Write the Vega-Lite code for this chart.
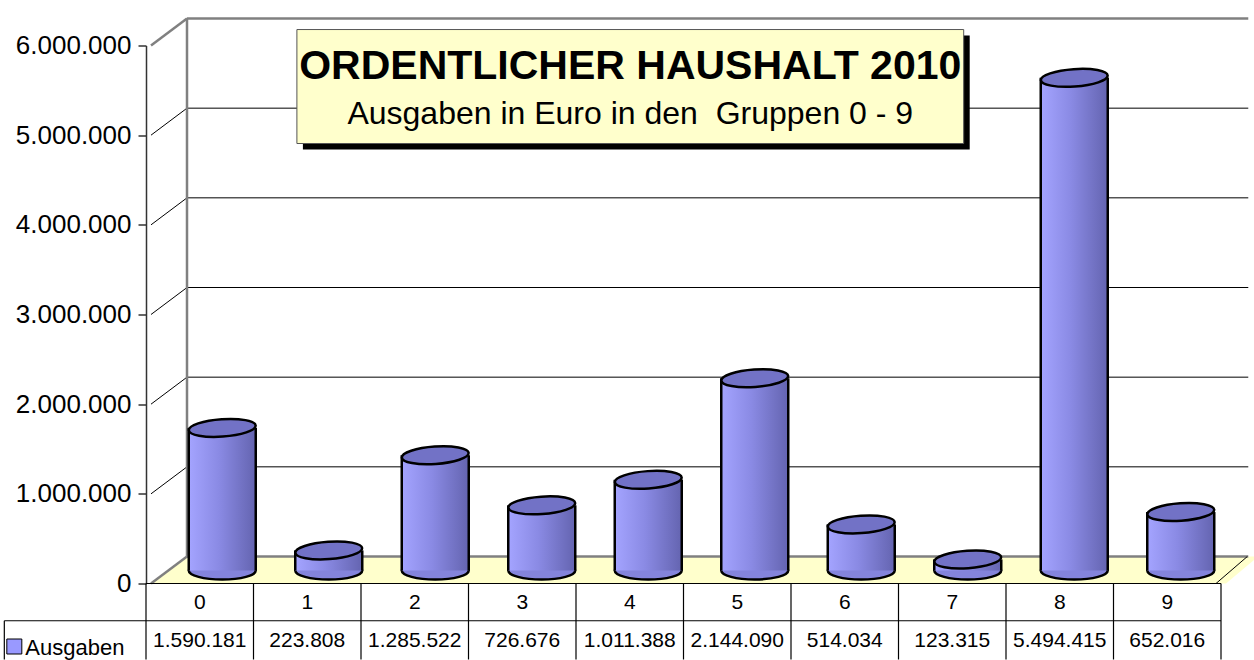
{
  "$schema": "https://vega.github.io/schema/vega-lite/v6.json",
  "padding": {"left": 3, "top": 13.5, "right": 0, "bottom": 0},
  "background": "white",
  "spacing": 0,
  "bounds": "flush",
  "config": {
    "locale": {"number": {"decimal": ",", "thousands": ".", "grouping": [3], "currency": ["", " €"]}},
    "view": {"stroke": null},
    "font": "Liberation Sans",
    "text": {"font": "Liberation Sans"}
  },
  "datasets": {
    "main": [
      {"Gruppe": 0, "Ausgaben": 1590181},
      {"Gruppe": 1, "Ausgaben": 223808},
      {"Gruppe": 2, "Ausgaben": 1285522},
      {"Gruppe": 3, "Ausgaben": 726676},
      {"Gruppe": 4, "Ausgaben": 1011388},
      {"Gruppe": 5, "Ausgaben": 2144090},
      {"Gruppe": 6, "Ausgaben": 514034},
      {"Gruppe": 7, "Ausgaben": 123315},
      {"Gruppe": 8, "Ausgaben": 5494415},
      {"Gruppe": 9, "Ausgaben": 652016}
    ],
    "grid": [
      {"v": 0}, {"v": 1000000}, {"v": 2000000}, {"v": 3000000},
      {"v": 4000000}, {"v": 5000000}, {"v": 6000000}
    ]
  },
  "vconcat": [
    {
      "width": 1075,
      "height": 538,
      "data": {"name": "main"},
      "layer": [
        {
          "data": {"values": [{}]},
          "mark": {"type": "point", "shape": "M0,0L3.6,-2.7L110.73,-2.7L107.5,0Z", "size": 400, "filled": true, "fill": "#FFFFCC", "strokeWidth": 0, "opacity": 1},
          "encoding": {
            "x": {"datum": -0.5, "type": "quantitative", "scale": {"domain": [-0.5, 9.5], "nice": false, "zero": false}, "axis": null},
            "y": {"datum": 0, "type": "quantitative", "scale": {"domain": [0, 6000000], "nice": false},
              "axis": {"values": [0, 1000000, 2000000, 3000000, 4000000, 5000000, 6000000], "format": ",d", "title": null, "grid": false,
                "labelFont": "Liberation Sans", "labelFontSize": 26, "labelColor": "black", "labelPadding": 7, "labelOverlap": false,
                "tickSize": 8, "tickColor": "#333333", "tickWidth": 1.5, "domainColor": "#333333", "domainWidth": 1.5}}
          }
        },
        {
          "data": {"name": "grid"},
          "transform": [{"filter": "datum.v > 0 && datum.v < 6000000"}],
          "mark": {"type": "rule", "color": "black", "strokeWidth": 1, "xOffset": 36, "x2Offset": 36, "yOffset": -27},
          "encoding": {"x": {"datum": -0.5, "type": "quantitative"}, "x2": {"datum": 9.465}, "y": {"field": "v", "type": "quantitative"}}
        },
        {
          "data": {"name": "grid"},
          "transform": [{"filter": "datum.v == 0 || datum.v == 6000000"}],
          "mark": {"type": "rule", "color": "#808080", "strokeWidth": 2.5, "xOffset": 36, "x2Offset": 36, "yOffset": -27},
          "encoding": {"x": {"datum": -0.5, "type": "quantitative"}, "x2": {"datum": 9.465}, "y": {"field": "v", "type": "quantitative"}}
        },
        {
          "data": {"name": "grid"},
          "transform": [{"filter": "datum.v > 0 && datum.v < 6000000"}],
          "mark": {"type": "point", "shape": "M0,0L1,-0.75", "size": 5184, "filled": false, "stroke": "black", "strokeWidth": 1, "opacity": 1},
          "encoding": {"x": {"datum": -0.5, "type": "quantitative"}, "y": {"field": "v", "type": "quantitative"}}
        },
        {
          "data": {"name": "grid"},
          "transform": [{"filter": "datum.v == 0 || datum.v == 6000000"}],
          "mark": {"type": "point", "shape": "M0,0L1,-0.75", "size": 5184, "filled": false, "stroke": "#808080", "strokeWidth": 2.5, "opacity": 1},
          "encoding": {"x": {"datum": -0.5, "type": "quantitative"}, "y": {"field": "v", "type": "quantitative"}}
        },
        {
          "data": {"values": [{}]},
          "mark": {"type": "rule", "color": "#808080", "strokeWidth": 2.5, "xOffset": 36, "x2Offset": 36, "yOffset": -27, "y2Offset": -27},
          "encoding": {"x": {"datum": -0.5, "type": "quantitative"}, "y": {"datum": 0, "type": "quantitative"}, "y2": {"datum": 6000000}}
        },
        {
          "data": {"values": [{}]},
          "mark": {"type": "point", "shape": "M0,0L0.87,-0.75", "size": 5184, "filled": false, "stroke": "black", "strokeWidth": 1, "opacity": 1},
          "encoding": {"x": {"datum": 9.5, "type": "quantitative"}, "y": {"datum": 0, "type": "quantitative"}}
        },
        {
          "data": {"values": [{}]},
          "mark": {"type": "rect", "color": "black", "xOffset": 6, "x2Offset": 6, "yOffset": 6, "y2Offset": 6, "opacity": 1},
          "encoding": {"x": {"datum": 0.87, "type": "quantitative"}, "x2": {"datum": 7.131}, "y": {"datum": 6178000, "type": "quantitative"}, "y2": {"datum": 4907000}}
        },
        {
          "data": {"values": [{}]},
          "mark": {"type": "rect", "fill": "#FFFFCC", "stroke": "#555555", "strokeWidth": 1, "opacity": 1},
          "encoding": {"x": {"datum": 0.87, "type": "quantitative"}, "x2": {"datum": 7.131}, "y": {"datum": 6178000, "type": "quantitative"}, "y2": {"datum": 4907000}}
        },
        {
          "data": {"values": [{}]},
          "mark": {"type": "text", "text": "ORDENTLICHER HAUSHALT 2010", "font": "Liberation Sans", "fontSize": 41, "fontWeight": "bold", "align": "center", "baseline": "alphabetic", "color": "black"},
          "encoding": {"x": {"datum": 4.0, "type": "quantitative"}, "y": {"datum": 5621000, "type": "quantitative"}}
        },
        {
          "data": {"values": [{}]},
          "mark": {"type": "text", "text": "Ausgaben in Euro in den \u00a0Gruppen 0 - 9", "font": "Liberation Sans", "fontSize": 32, "align": "center", "baseline": "alphabetic", "color": "black"},
          "encoding": {"x": {"datum": 4.0, "type": "quantitative"}, "y": {"datum": 5130000, "type": "quantitative"}}
        },
        {
          "mark": {"type": "point", "shape": "M-1,0A1,0.27,0,1,1,1,0A1,0.27,0,1,1,-1,0Z", "size": 4489, "filled": true, "fill": "#8484DC", "stroke": "black", "strokeWidth": 2.5, "opacity": 1, "xOffset": 18, "yOffset": -13},
          "encoding": {"x": {"field": "Gruppe", "type": "quantitative"}, "y": {"datum": 0, "type": "quantitative"}}
        },
        {
          "mark": {"type": "bar", "width": 67, "xOffset": 18, "x2Offset": 18, "yOffset": -13, "y2Offset": -13,
            "color": {"gradient": "linear", "x1": 0, "y1": 0, "x2": 1, "y2": 0,
              "stops": [{"offset": 0, "color": "#A4A4FF"}, {"offset": 0.45, "color": "#8A8AE4"}, {"offset": 1, "color": "#6464B0"}]}},
          "encoding": {"x": {"field": "Gruppe", "type": "quantitative"}, "y": {"field": "Ausgaben", "type": "quantitative"}, "y2": {"datum": 0}}
        },
        {
          "mark": {"type": "rule", "color": "black", "strokeWidth": 2.5, "xOffset": -15.5, "yOffset": -13, "y2Offset": -13},
          "encoding": {"x": {"field": "Gruppe", "type": "quantitative"}, "y": {"field": "Ausgaben", "type": "quantitative"}, "y2": {"datum": 0}}
        },
        {
          "mark": {"type": "rule", "color": "black", "strokeWidth": 2.5, "xOffset": 51.5, "yOffset": -13, "y2Offset": -13},
          "encoding": {"x": {"field": "Gruppe", "type": "quantitative"}, "y": {"field": "Ausgaben", "type": "quantitative"}, "y2": {"datum": 0}}
        },
        {
          "mark": {"type": "point", "shape": "M-1,0A1,0.26,0,1,1,1,0A1,0.26,0,1,1,-1,0Z", "size": 4489, "angle": -4, "filled": true, "fill": "#7272C6", "stroke": "black", "strokeWidth": 2.5, "opacity": 1, "xOffset": 18, "yOffset": -13},
          "encoding": {"x": {"field": "Gruppe", "type": "quantitative"}, "y": {"field": "Ausgaben", "type": "quantitative"}}
        }
      ]
    },
    {
      "width": 1075,
      "height": 76,
      "data": {"name": "main"},
      "layer": [
        {
          "mark": {"type": "rule", "color": "black", "strokeWidth": 1.2, "xOffset": -53.75, "x2Offset": -53.75},
          "encoding": {
            "x": {"field": "Gruppe", "type": "quantitative", "scale": {"domain": [-0.5, 9.5], "nice": false, "zero": false}, "axis": null},
            "y": {"datum": 0, "type": "quantitative", "scale": {"domain": [0, 2], "reverse": true, "nice": false}, "axis": null},
            "y2": {"datum": 2}
          }
        },
        {
          "data": {"values": [{}]},
          "mark": {"type": "rule", "color": "black", "strokeWidth": 1.2},
          "encoding": {"x": {"datum": 9.5, "type": "quantitative"}, "y": {"datum": 0, "type": "quantitative"}, "y2": {"datum": 2}}
        },
        {
          "data": {"values": [{}]},
          "mark": {"type": "rule", "color": "black", "strokeWidth": 1.2},
          "encoding": {"x": {"datum": -0.5, "type": "quantitative"}, "x2": {"datum": 9.5}, "y": {"datum": 0, "type": "quantitative"}}
        },
        {
          "data": {"values": [{}]},
          "mark": {"type": "rule", "color": "black", "strokeWidth": 1.2},
          "encoding": {"x": {"datum": -1.818, "type": "quantitative"}, "x2": {"datum": 9.5}, "y": {"datum": 0.98, "type": "quantitative"}}
        },
        {
          "data": {"values": [{}]},
          "mark": {"type": "rule", "color": "black", "strokeWidth": 1.2},
          "encoding": {"x": {"datum": -1.818, "type": "quantitative"}, "y": {"datum": 0.98, "type": "quantitative"}, "y2": {"datum": 2}}
        },
        {
          "mark": {"type": "text", "font": "Liberation Sans", "fontSize": 21, "align": "center", "baseline": "middle", "color": "black"},
          "encoding": {"x": {"field": "Gruppe", "type": "quantitative"}, "y": {"datum": 0.5, "type": "quantitative"}, "text": {"field": "Gruppe", "type": "nominal"}}
        },
        {
          "mark": {"type": "text", "font": "Liberation Sans", "fontSize": 21, "align": "center", "baseline": "middle", "color": "black"},
          "encoding": {"x": {"field": "Gruppe", "type": "quantitative"}, "y": {"datum": 1.5, "type": "quantitative"}, "text": {"field": "Ausgaben", "type": "quantitative", "format": ",d"}}
        },
        {
          "data": {"values": [{"Serie": "Ausgaben"}]},
          "mark": {"type": "point", "shape": "square", "size": 225, "filled": true, "fill": "#9999FF", "stroke": "black", "strokeWidth": 1, "opacity": 1, "xOffset": 10, "yOffset": 6},
          "encoding": {"x": {"datum": -1.818, "type": "quantitative"}, "y": {"datum": 1.5, "type": "quantitative"}}
        },
        {
          "data": {"values": [{"Serie": "Ausgaben"}]},
          "mark": {"type": "text", "font": "Liberation Sans", "fontSize": 22, "align": "left", "baseline": "middle", "color": "black", "dx": 21, "dy": 7},
          "encoding": {"x": {"datum": -1.818, "type": "quantitative"}, "y": {"datum": 1.5, "type": "quantitative"}, "text": {"field": "Serie", "type": "nominal"}}
        }
      ]
    }
  ]
}
